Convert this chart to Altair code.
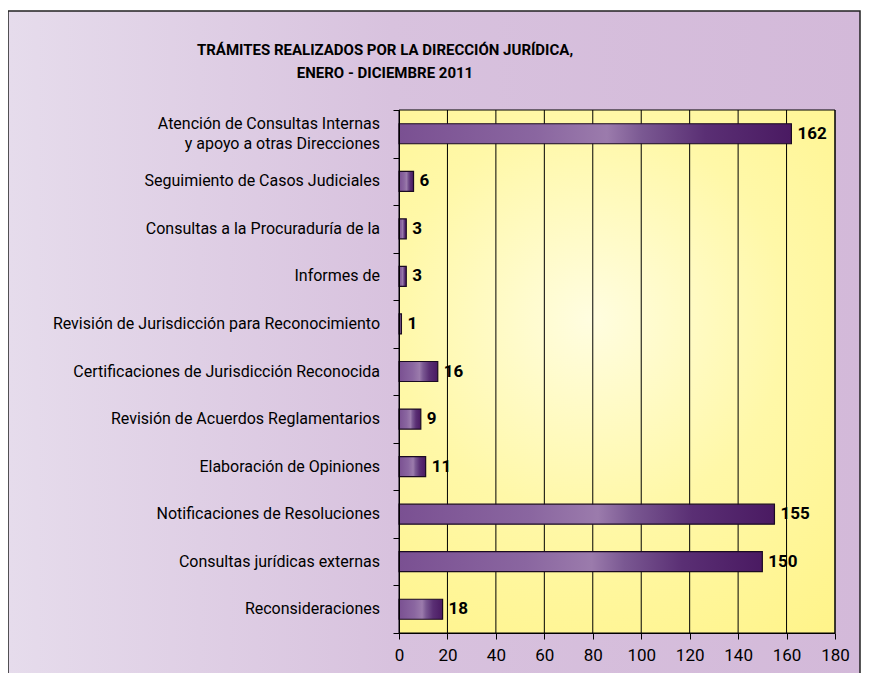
import altair as alt
import pandas as pd

categories = [
    "Atención de Consultas Internas\ny apoyo a otras Direcciones",
    "Seguimiento de Casos Judiciales",
    "Consultas a la Procuraduría de la",
    "Informes de",
    "Revisión de Jurisdicción para Reconocimiento",
    "Certificaciones de Jurisdicción Reconocida",
    "Revisión de Acuerdos Reglamentarios",
    "Elaboración de Opiniones",
    "Notificaciones de Resoluciones",
    "Consultas jurídicas externas",
    "Reconsideraciones",
]
values = [162, 6, 3, 3, 1, 16, 9, 11, 155, 150, 18]
x_ticks = [0, 20, 40, 60, 80, 100, 120, 140, 160, 180]
title_lines = ["TRÁMITES REALIZADOS POR LA DIRECCIÓN JURÍDICA,", "ENERO - DICIEMBRE 2011"]

FONT = "Roboto, sans-serif"
W, H = 436, 523
PL, PT, PR, PB = 391, 102, 26, 40

df = pd.DataFrame({"cat": categories, "v": values})
grid_df = pd.DataFrame({"t": x_ticks[1:]})

xscale = alt.Scale(domain=[0, 180], nice=False, zero=True)
yscale = alt.Scale(domain=categories, paddingInner=0, paddingOuter=0)

bg = alt.Chart(alt.Data(values=[{}])).mark_rect(
    color=alt.LinearGradient(
        gradient="linear", x1=0, x2=1, y1=0, y2=0,
        stops=[alt.GradientStop(color="#e6dcec", offset=0),
               alt.GradientStop(color="#d8c2de", offset=0.45),
               alt.GradientStop(color="#d3b9d9", offset=1)]),
    stroke="#222222", strokeWidth=1.5,
).encode(x=alt.value(-PL + 0), x2=alt.value(W + PR - 1),
         y=alt.value(-PT + 3), y2=alt.value(H + PB + 10))

plotbg = alt.Chart(alt.Data(values=[{}])).mark_rect(
    color=alt.RadialGradient(
        gradient="radial", x1=0.45, y1=0.4, r1=0, x2=0.45, y2=0.4, r2=0.75,
        stops=[alt.GradientStop(color="#fffde0", offset=0),
               alt.GradientStop(color="#fff8a8", offset=0.5),
               alt.GradientStop(color="#fff48a", offset=1)]),
    stroke="#000000", strokeWidth=1,
).encode(x=alt.value(0), x2=alt.value(W), y=alt.value(0), y2=alt.value(H))

grid = alt.Chart(grid_df).mark_rule(color="#000000", strokeWidth=1).encode(
    x=alt.X("t:Q", scale=xscale, title=None), y=alt.value(0), y2=alt.value(H))

bars = alt.Chart(df).mark_bar(
    size=20, stroke="#1a0a22", strokeWidth=1.2,
    color=alt.LinearGradient(
        gradient="linear", x1=0, x2=1, y1=0, y2=0,
        stops=[alt.GradientStop(color="#7a5092", offset=0),
               alt.GradientStop(color="#8a66a0", offset=0.35),
               alt.GradientStop(color="#9b7bac", offset=0.53),
               alt.GradientStop(color="#7a5892", offset=0.62),
               alt.GradientStop(color="#5a2f74", offset=0.78),
               alt.GradientStop(color="#4a1a62", offset=1)]),
).encode(
    x=alt.X("v:Q", scale=xscale, title=None,
            axis=alt.Axis(values=x_ticks, grid=False, domain=True, domainColor="#000000",
                          tickColor="#000000", tickSize=6, labelFont=FONT, labelFontSize=17,
                          labelColor="#000000", labelPadding=8, zindex=1, labelFlush=False)),
    y=alt.Y("cat:N", scale=yscale, sort=None, title=None,
            axis=alt.Axis(domain=True, domainColor="#000000", tickColor="#000000", tickSize=6,
                          tickBand="extent", labels=False, zindex=1)),
)

labels = alt.Chart(df).mark_text(
    align="left", baseline="middle", dx=6, font=FONT, fontSize=17, fontWeight="bold",
    color="#000000",
).encode(
    x=alt.X("v:Q", scale=xscale, title=None),
    y=alt.Y("cat:N", scale=yscale, sort=None, title=None),
    text=alt.Text("v:Q"),
)

cat_single = alt.Chart(df).transform_filter(
    "indexof(datum.cat, '\\n') < 0"
).mark_text(
    align="right", baseline="middle", font=FONT, fontSize=16, color="#000000",
).encode(
    x=alt.value(-19),
    y=alt.Y("cat:N", scale=yscale, sort=None, title=None),
    text="cat:N",
)

cat_multi = alt.Chart(df).transform_filter(
    "indexof(datum.cat, '\\n') >= 0"
).mark_text(
    align="right", baseline="middle", font=FONT, fontSize=16, color="#000000",
    lineBreak="\n", lineHeight=20, dy=-10,
).encode(
    x=alt.value(-19),
    y=alt.Y("cat:N", scale=yscale, sort=None, title=None),
    text="cat:N",
)

title1 = alt.Chart(alt.Data(values=[{"t": title_lines[0]}])).mark_text(
    align="center", baseline="alphabetic", font=FONT, fontSize=15, fontWeight="bold", color="#000000",
).encode(text="t:N", x=alt.value(-14), y=alt.value(-55))
title2 = alt.Chart(alt.Data(values=[{"t": title_lines[1]}])).mark_text(
    align="center", baseline="alphabetic", font=FONT, fontSize=15, fontWeight="bold", color="#000000",
).encode(text="t:N", x=alt.value(-14), y=alt.value(-32))

chart = alt.layer(bg, plotbg, grid, bars, labels, cat_single, cat_multi, title1, title2).properties(
    width=W, height=H,
    autosize=alt.AutoSizeParams(type="none"),
    padding={"left": PL, "top": PT, "right": PR, "bottom": PB},
    background="#ffffff",
).configure_view(stroke=None)

chart.save("out.html", embed_options={"renderer": "svg", "actions": False})
